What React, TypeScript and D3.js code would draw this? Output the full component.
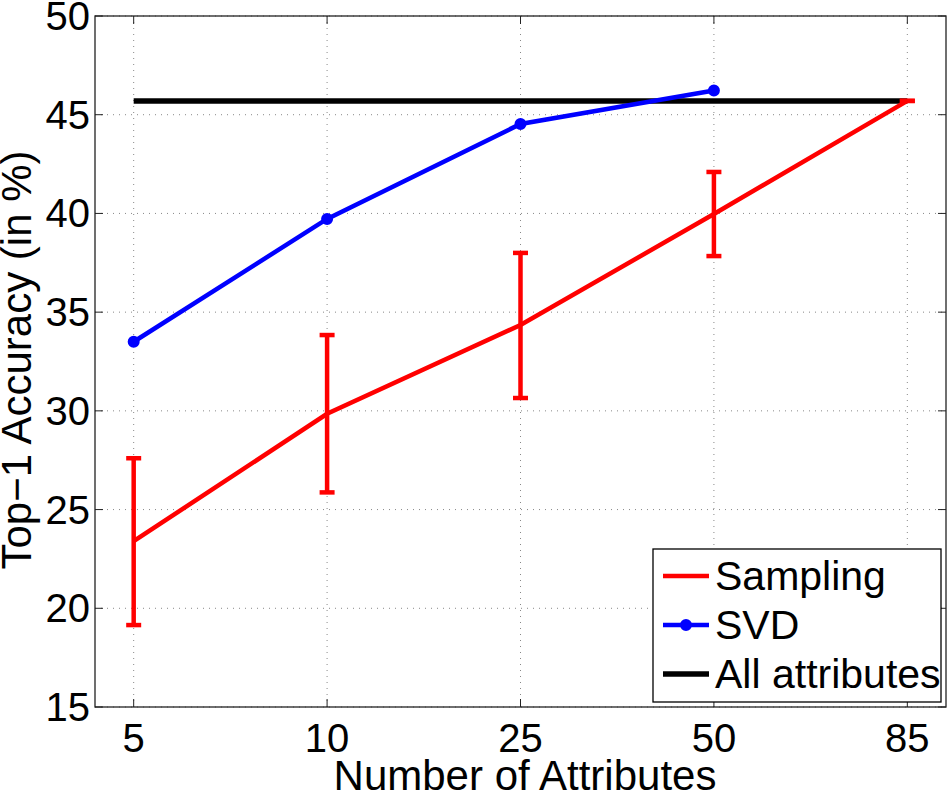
import React from "react";
import * as d3 from "d3";

const categories = ["5", "10", "25", "50", "85"];
const samplingMean = [23.4, 29.85, 34.35, 39.97, 45.7];
const samplingLow = [19.15, 25.87, 30.65, 37.84, 45.7];
const samplingHigh = [27.6, 33.84, 38.0, 42.1, 45.7];
const svdValues = [33.5, 39.72, 44.53, 46.23];
const allAttributes = 45.7;
const yTicks = [15, 20, 25, 30, 35, 40, 45, 50];
const legendLabels = ["Sampling", "SVD", "All attributes"];

const W = 948, H = 795;
const L = 95, R = 946, T = 16, B = 707;

export default function App() {
  const x = d3.scaleLinear().domain([0.8, 5.2]).range([L, R]);
  const y = d3.scaleLinear().domain([15, 50]).range([B, T]);
  const xi = (i: number) => x(i + 1);
  const line = d3.line<[number, number]>().x(d => d[0]).y(d => d[1]);
  const sampPath = line(samplingMean.map((v, i) => [xi(i), y(v)]))!;
  const svdPath = line(svdValues.map((v, i) => [xi(i), y(v)]))!;
  const font = "'Liberation Sans', Arial, Helvetica, sans-serif";
  const capW = 7.5;
  return (
    <svg width={W} height={H} style={{ position: "absolute", left: 0, top: 0, background: "#fff" }} fontFamily={font}>
      <rect x={0} y={0} width={W} height={H} fill="#fff" />
      {/* grid */}
      {categories.map((c, i) => (
        <line key={"gx" + i} x1={xi(i)} x2={xi(i)} y1={T} y2={B} stroke="#888" strokeWidth={1} strokeDasharray="1,5" />
      ))}
      {yTicks.map((t) => (
        <line key={"gy" + t} x1={L} x2={R} y1={y(t)} y2={y(t)} stroke="#888" strokeWidth={1} strokeDasharray="1,5" />
      ))}
      {/* box */}
      <rect x={L} y={T} width={R - L} height={B - T} fill="none" stroke="#222" strokeWidth={1.3} />
      {/* ticks */}
      {categories.map((c, i) => (
        <g key={"tx" + i}>
          <line x1={xi(i)} x2={xi(i)} y1={B} y2={B - 8} stroke="#222" />
          <line x1={xi(i)} x2={xi(i)} y1={T} y2={T + 8} stroke="#222" />
          <text x={xi(i)} y={752} fontSize={40} textAnchor="middle">{c}</text>
        </g>
      ))}
      {yTicks.map((t) => (
        <g key={"ty" + t}>
          <line x1={L} x2={L + 8} y1={y(t)} y2={y(t)} stroke="#222" />
          <line x1={R} x2={R - 8} y1={y(t)} y2={y(t)} stroke="#222" />
          <text x={90} y={y(t) + 14} fontSize={40} textAnchor="end">{t}</text>
        </g>
      ))}
      {/* all attributes */}
      <line x1={xi(0)} x2={xi(4)} y1={y(allAttributes)} y2={y(allAttributes)} stroke="#000" strokeWidth={5.5} />
      {/* sampling */}
      <path d={sampPath} fill="none" stroke="#ff0000" strokeWidth={4.5} />
      {samplingMean.map((m, i) => (
        <g key={"eb" + i} stroke="#ff0000" strokeWidth={4.5}>
          <line x1={xi(i)} x2={xi(i)} y1={y(samplingLow[i])} y2={y(samplingHigh[i])} />
          <line x1={xi(i) - capW} x2={xi(i) + capW} y1={y(samplingLow[i])} y2={y(samplingLow[i])} />
          <line x1={xi(i) - capW} x2={xi(i) + capW} y1={y(samplingHigh[i])} y2={y(samplingHigh[i])} />
        </g>
      ))}
      {/* svd */}
      <path d={svdPath} fill="none" stroke="#0000ff" strokeWidth={4.5} />
      {svdValues.map((v, i) => (
        <circle key={"sv" + i} cx={xi(i)} cy={y(v)} r={5} fill="#0000ff" stroke="#0000ff" strokeWidth={2} />
      ))}
      {/* axis titles */}
      <text x={525} y={790} fontSize={42} textAnchor="middle">Number of Attributes</text>
      <text transform={`translate(31,${360}) rotate(-90)`} fontSize={42} textAnchor="middle">Top−1 Accuracy (in %)</text>
      {/* legend */}
      <rect x={653} y={549} width={288} height={153} fill="#fff" stroke="#000" strokeWidth={1.3} />
      {legendLabels.map((lab, i) => {
        const ly = 576 + i * 49;
        const color = ["#ff0000", "#0000ff", "#000000"][i];
        return (
          <g key={"lg" + i}>
            <line x1={663} x2={709} y1={ly} y2={ly} stroke={color} strokeWidth={i === 2 ? 5.5 : 4.5} />
            {i === 1 && <circle cx={686} cy={ly} r={5} fill={color} stroke={color} strokeWidth={2} />}
            <text x={715} y={ly + 14} fontSize={41}>{lab}</text>
          </g>
        );
      })}
    </svg>
  );
}
